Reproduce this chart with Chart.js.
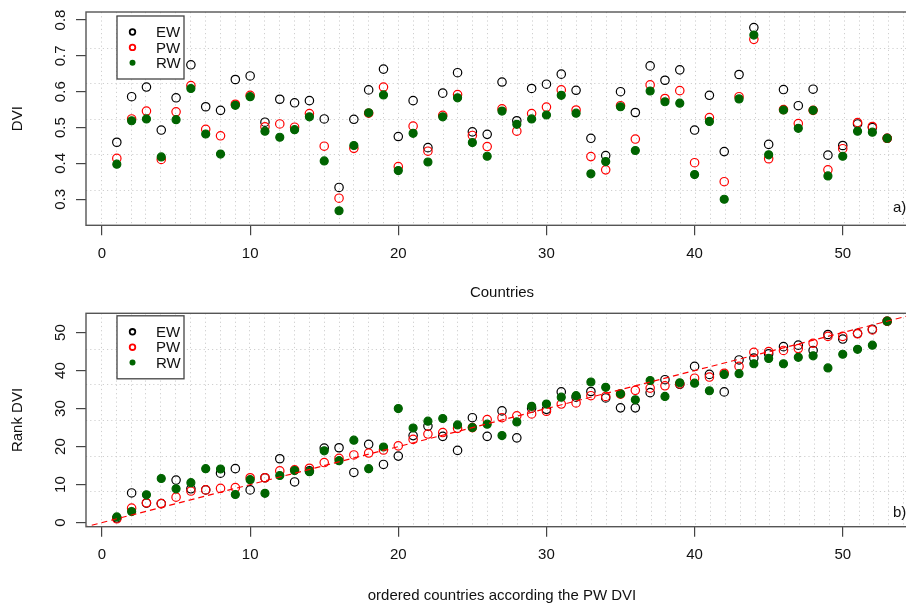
<!DOCTYPE html>
<html>
<head>
<meta charset="utf-8">
<script src="https://cdn.jsdelivr.net/npm/chart.js@4.4.1/dist/chart.umd.min.js"></script>
<style>
html,body{margin:0;padding:0;background:#fff;overflow:hidden;width:906px;height:603px}
#wrap{position:relative;width:906px;height:603px;overflow:hidden;background:#fff}
.pane{position:absolute;left:0}
canvas{display:block}
</style>
</head>
<body>
<div id="wrap">
  <div class="pane" style="top:0;width:940px;height:300px"><canvas id="topChart" width="940" height="300"></canvas></div>
  <div class="pane" style="top:300px;width:940px;height:303px"><canvas id="botChart" width="940" height="303"></canvas></div>
</div>
<script>
// ---------- data ----------
const countryIndex = [1,2,3,4,5,6,7,8,9,10,11,12,13,14,15,16,17,18,19,20,21,22,23,24,25,26,27,28,29,30,31,32,33,34,35,36,37,38,39,40,41,42,43,44,45,46,47,48,49,50,51,52,53];
const seriesNames = ['EW','PW','RW'];
const xTickValues = [0,10,20,30,40,50];
const dviTickValues = [0.3,0.4,0.5,0.6,0.7,0.8];
const rankTickValues = [0,10,20,30,40,50];

const ewDVI = [0.459,0.586,0.613,0.493,0.583,0.675,0.558,0.548,0.634,0.644,0.515,0.579,0.569,0.575,0.524,0.333,0.523,0.605,0.663,0.475,0.575,0.444,0.596,0.653,0.488,0.481,0.627,0.519,0.609,0.621,0.649,0.604,0.470,0.422,0.600,0.542,0.672,0.632,0.661,0.493,0.590,0.433,0.648,0.779,0.453,0.606,0.561,0.607,0.423,0.450,0.510,0.500,0.470];
const pwDVI = [0.414,0.524,0.546,0.411,0.544,0.617,0.495,0.477,0.565,0.590,0.502,0.510,0.501,0.539,0.448,0.303,0.442,0.540,0.613,0.391,0.504,0.434,0.534,0.592,0.478,0.447,0.552,0.490,0.539,0.557,0.605,0.549,0.419,0.382,0.561,0.468,0.619,0.581,0.603,0.402,0.528,0.349,0.586,0.746,0.413,0.550,0.511,0.548,0.382,0.441,0.514,0.503,0.470];
const rwDVI = [0.398,0.519,0.524,0.418,0.522,0.609,0.482,0.426,0.562,0.586,0.490,0.473,0.494,0.530,0.407,0.268,0.450,0.541,0.591,0.380,0.484,0.404,0.530,0.583,0.458,0.420,0.546,0.509,0.524,0.535,0.590,0.540,0.371,0.405,0.558,0.436,0.602,0.572,0.568,0.369,0.517,0.300,0.580,0.758,0.424,0.549,0.498,0.548,0.365,0.420,0.490,0.487,0.470];

const ewRank = [1.2,7.8,5.1,5.0,11.2,8.9,8.6,13.0,14.2,8.6,11.8,16.8,10.7,13.6,19.6,19.7,13.2,20.6,15.3,17.5,22.9,25.4,22.7,19.0,27.6,22.7,29.4,22.3,30.1,29.8,34.4,33.0,34.5,32.8,30.2,30.2,34.2,37.6,36.4,41.1,39.0,34.4,42.8,43.3,44.4,46.3,46.7,45.3,49.5,48.3,49.8,50.9,53.0];
const pwRank = [1.0,3.8,5.2,5.0,6.7,8.3,8.6,9.0,9.2,11.8,11.8,13.6,13.9,14.3,15.8,16.9,17.8,18.3,19.1,20.2,21.9,23.3,23.7,24.8,25.0,27.1,27.6,28.1,28.6,29.3,31.2,31.5,33.4,33.2,33.8,34.8,35.4,36.0,36.5,38.0,38.3,39.3,41.1,44.8,45.0,45.3,45.8,47.2,49.0,49.0,49.7,50.7,53.0];
const rwRank = [1.5,2.9,7.3,11.6,8.9,10.5,14.2,14.1,7.4,11.3,7.7,12.4,13.7,13.4,18.9,16.3,21.7,14.2,19.9,30.0,24.9,26.7,27.4,25.7,25.0,25.9,22.9,26.5,30.6,31.2,33.0,33.4,37.0,35.6,33.9,32.3,37.4,33.2,36.8,36.7,34.7,39.0,39.2,41.8,43.2,41.8,43.5,43.9,40.7,44.3,45.6,46.7,53.0];

// reference line y = x (two end abscissas)
const refLineX = [-2, 56];

// ---------- styling ----------
const FONT = '"Liberation Sans", Arial, Helvetica, sans-serif';
const FS = 15;
const seriesStyle = {
  EW: {color:'#000000', fill:false},
  PW: {color:'#ff0000', fill:false},
  RW: {color:'#006400', fill:true}
};

function pts(xs, ys){ return xs.map((x,k)=>({x:x, y:ys[k]})); }

function makeDataset(name, values, order){
  const st = seriesStyle[name];
  return {
    label: name,
    data: pts(countryIndex, values),
    order: order,
    pointStyle: 'circle',
    pointRadius: st.fill ? 4.0 : 4.2,
    pointBorderWidth: st.fill ? 1.2 : 1.2,
    borderColor: st.color,
    backgroundColor: st.fill ? st.color : 'rgba(0,0,0,0)',
    pointBackgroundColor: st.fill ? st.color : 'rgba(0,0,0,0)',
    pointBorderColor: st.color,
    showLine: false
  };
}

// dotted R-style grid (equal divisions of the plot region), box, legend, rotated y labels, panel tag
const rPlotPlugin = {
  id: 'rplot',
  beforeDatasetsDraw(chart, args, o){
    const {ctx, chartArea:{left,right,top,bottom}} = chart;
    ctx.save();
    ctx.strokeStyle = '#cfcfcf';
    ctx.lineWidth = 1;
    ctx.setLineDash([1.2,3]);
    for (let k=1;k<o.nx;k++){
      const x = Math.round(left + (right-left)*k/o.nx) + 0.5;
      ctx.beginPath(); ctx.moveTo(x, top); ctx.lineTo(x, bottom); ctx.stroke();
    }
    for (let k=1;k<o.ny;k++){
      const y = Math.round(top + (bottom-top)*k/o.ny) + 0.5;
      ctx.beginPath(); ctx.moveTo(left, y); ctx.lineTo(right, y); ctx.stroke();
    }
    ctx.restore();
  },
  afterDatasetsDraw(chart, args, o){
    const {ctx, chartArea:{left,right,top,bottom}} = chart;
    ctx.save();
    ctx.strokeStyle = '#555';
    ctx.lineWidth = 1.4;
    ctx.strokeRect(left, top, right-left, bottom-top);
    ctx.restore();
  },
  afterDraw(chart, args, o){
    const {ctx, chartArea:{left,right,top,bottom}} = chart;
    const ys = chart.scales.y;
    ctx.save();
    // rotated y tick labels
    ctx.fillStyle = '#111';
    ctx.font = FS + 'px ' + FONT;
    ctx.textAlign = 'center';
    ctx.textBaseline = 'alphabetic';
    ys.ticks.forEach(t=>{
      const py = ys.getPixelForValue(t.value);
      ctx.save();
      ctx.translate(o.yLabelX, py);
      ctx.rotate(-Math.PI/2);
      ctx.fillText(o.yFmt(t.value), 0, 0);
      ctx.restore();
    });
    // legend
    const lx = left + o.legend.dx, ly = top + o.legend.dy;
    const lw = 67, lh = 63;
    ctx.fillStyle = '#fff';
    ctx.fillRect(lx, ly, lw, lh);
    ctx.strokeStyle = '#444';
    ctx.lineWidth = 1.3;
    ctx.strokeRect(lx, ly, lw, lh);
    ctx.textAlign = 'left';
    ctx.textBaseline = 'middle';
    seriesNames.forEach((name,k)=>{
      const st = seriesStyle[name];
      const cy = ly + 16 + k*15.4;
      ctx.beginPath();
      if (st.fill){
        ctx.arc(lx + 15.5, cy, 3.0, 0, Math.PI*2);
        ctx.fillStyle = st.color; ctx.fill();
      } else {
        ctx.arc(lx + 15.5, cy, 2.8, 0, Math.PI*2);
        ctx.strokeStyle = st.color; ctx.lineWidth = 1.8; ctx.stroke();
      }
      ctx.fillStyle = '#111';
      ctx.fillText(name, lx + 39, cy + 1);
    });
    // panel tag
    ctx.fillStyle = '#111';
    ctx.textAlign = 'left';
    ctx.textBaseline = 'alphabetic';
    ctx.fillText(o.tag, right - 25, bottom - o.tagDy);
    ctx.restore();
  }
};

function baseOptions(cfg){
  return {
    responsive: false,
    animation: false,
    events: [],
    layout: {padding: {left:0, top: cfg.padTop, right: cfg.padRight, bottom: 0}},
    plugins: {
      legend: {display:false},
      tooltip: {enabled:false},
      rplot: {nx:56, ny:6, yLabelX: 65, yFmt: cfg.yFmt, legend: {dx:31, dy:cfg.legendDy}, tag: cfg.tag, tagDy: cfg.tagDy}
    },
    scales: {
      x: {
        type: 'linear',
        min: -1.08, max: 55.08,
        afterBuildTicks: s => { s.ticks = xTickValues.map(v=>({value:v})); },
        afterFit: s => { s.height = cfg.xAxisH; },
        ticks: {color:'#111', padding: cfg.xTickPad, font:{family:FONT, size:FS}, maxRotation:0, autoSkip:false, includeBounds:false},
        grid: {drawOnChartArea:false, drawTicks:true, tickLength:10, color:'#444', tickColor:'#444', lineWidth:1.2},
        border: {display:false},
        title: {display:true, text: cfg.xTitle, color:'#111', font:{family:FONT, size:FS, lineHeight:1}, padding:{top:0,bottom:0}}
      },
      y: {
        type: 'linear',
        min: cfg.yMin, max: cfg.yMax,
        afterBuildTicks: s => { s.ticks = cfg.yTicks.map(v=>({value:v})); },
        afterFit: s => { s.width = 86; },
        ticks: {display:false},
        grid: {drawOnChartArea:false, drawTicks:true, tickLength:10, color:'#444', tickColor:'#444', lineWidth:1.2},
        border: {display:false},
        title: {display:true, text: cfg.yTitle, color:'#111', font:{family:FONT, size:FS, lineHeight:1}, padding:{top:10.5,bottom:0}}
      }
    }
  };
}

// ---------- top panel: DVI by country ----------
new Chart(document.getElementById('topChart'), {
  type: 'scatter',
  data: {
    datasets: [
      makeDataset('EW', ewDVI, 3),
      makeDataset('PW', pwDVI, 2),
      makeDataset('RW', rwDVI, 1)
    ]
  },
  options: baseOptions({
    padTop: 12, padRight: 22, xAxisH: 74.7, xTickPad: 10,
    xTitle: 'Countries', yTitle: 'DVI',
    yMin: 0.2274, yMax: 0.8223, yTicks: dviTickValues,
    yFmt: v => v.toFixed(1),
    legendDy: 4, tag: 'a)', tagDy: 13.5
  }),
  plugins: [rPlotPlugin]
});

// ---------- bottom panel: rank DVI ----------
new Chart(document.getElementById('botChart'), {
  type: 'scatter',
  data: {
    datasets: [
      {
        label: 'ref',
        data: refLineX.map(v=>({x:v, y:v})),
        order: 0,
        showLine: true,
        borderColor: '#ff0000',
        borderWidth: 1.2,
        borderDash: [6,4],
        pointRadius: 0,
        fill: false
      },
      makeDataset('EW', ewRank, 3),
      makeDataset('PW', pwRank, 2),
      makeDataset('RW', rwRank, 1)
    ]
  },
  options: baseOptions({
    padTop: 13.3, padRight: 22, xAxisH: 76.3, xTickPad: 9,
    xTitle: 'ordered countries according the PW DVI', yTitle: 'Rank DVI',
    yMin: -1.08, yMax: 55.08, yTicks: rankTickValues,
    yFmt: v => String(Math.round(v)),
    legendDy: 2.5, tag: 'b)', tagDy: 10
  }),
  plugins: [rPlotPlugin]
});
</script>
</body>
</html>
